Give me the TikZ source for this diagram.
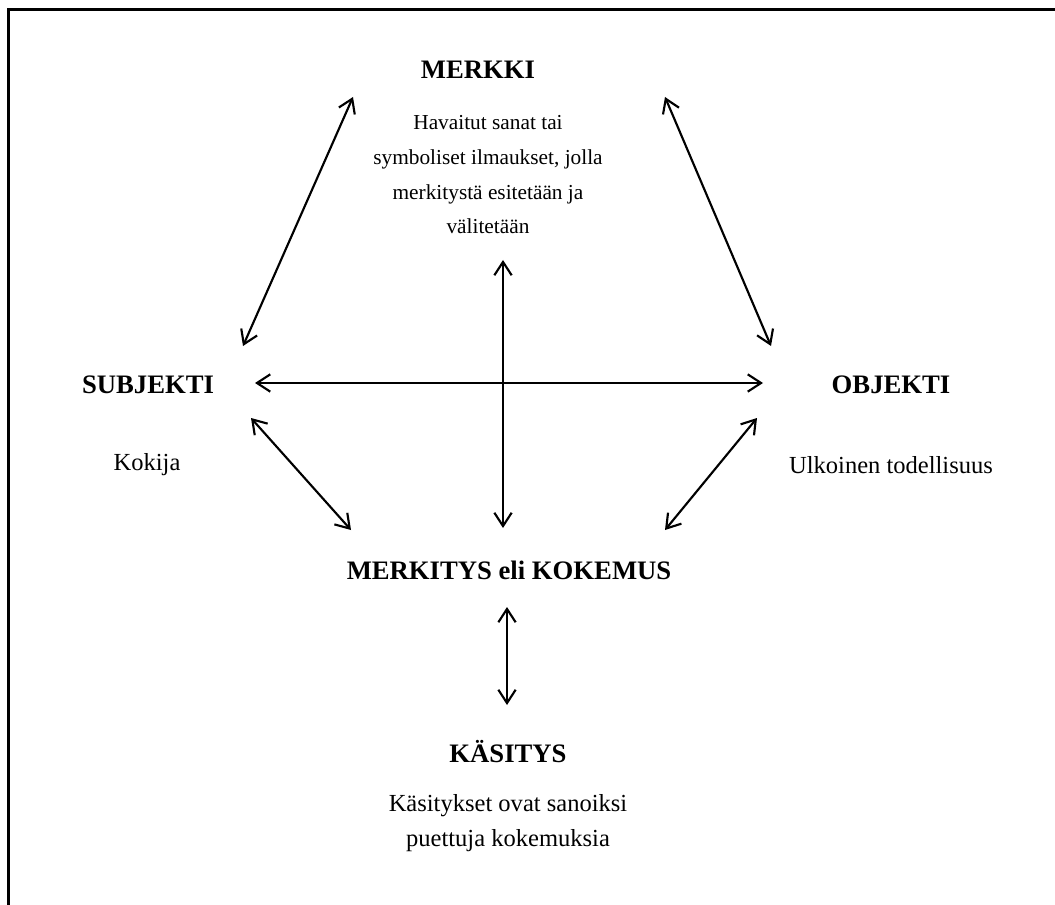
\documentclass[tikz,border=0pt]{standalone}
\usepackage{fontspec}
\setmainfont{Liberation Serif}
\usetikzlibrary{arrows.meta}
\begin{document}
\begin{tikzpicture}[x=0.75pt,y=-0.75pt,
  title/.style={font=\fontsize{20}{24}\selectfont\bfseries, anchor=center, inner sep=0pt},
  desc/.style={font=\fontsize{18.4}{26}\selectfont, align=center, anchor=center, inner sep=0pt},
  smalldesc/.style={desc, font=\fontsize{16}{26}\selectfont},
  link/.style={line width=1.6pt, {Straight Barb[length=10pt,width=13pt,line width=1.6pt]}-{Straight Barb[length=10pt,width=13pt,line width=1.6pt]}},
  frame/.style={line width=2.2pt}]
\useasboundingbox (0,0) rectangle (1055,905);
% frame along top and left edges
\draw[frame] (8.5,905) -- (8.5,9.5) -- (1060,9.5);

% titles and descriptions
\node[title] (merkki) at (478,70) {MERKKI};
\node[smalldesc] (merkkid) at (488,175) {Havaitut sanat tai\\symboliset ilmaukset, jolla\\merkitystä esitetään ja\\välitetään};
\node[title] (subj) at (148,385) {SUBJEKTI};
\node[desc] (subjd) at (147,465) {Kokija};
\node[title] (obj) at (891,385) {OBJEKTI};
\node[desc] (objd) at (891,465) {Ulkoinen todellisuus};
\node[title] (merk) at (509,570) {MERKITYS eli KOKEMUS};
\node[title] (kas) at (508,752) {KÄSITYS};
\node[desc] (kasd) at (508,823) {Käsitykset ovat sanoiksi\\puettuja kokemuksia};

% arrow end points
\coordinate (ul1) at (243,346);
\coordinate (ul2) at (353,97);
\coordinate (ur1) at (665,97);
\coordinate (ur2) at (771,346);
\coordinate (h1) at (255,383);
\coordinate (h2) at (763,383);
\coordinate (v1) at (503,260);
\coordinate (v2) at (503,528);
\coordinate (ll1) at (251,418);
\coordinate (ll2) at (351,530);
\coordinate (lr1) at (757,418);
\coordinate (lr2) at (665,530);
\coordinate (b1) at (507,607);
\coordinate (b2) at (507,705);

\draw[link] (ul1) -- (ul2);
\draw[link] (ur1) -- (ur2);
\draw[link] (h1) -- (h2);
\draw[link] (v1) -- (v2);
\draw[link] (ll1) -- (ll2);
\draw[link] (lr1) -- (lr2);
\draw[link] (b1) -- (b2);
\end{tikzpicture}
\end{document}
